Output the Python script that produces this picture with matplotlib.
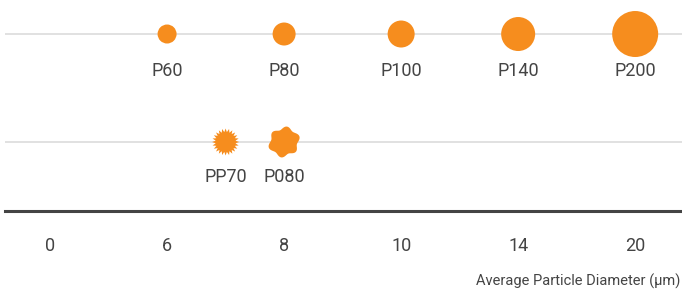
import matplotlib
matplotlib.use('Agg')
import matplotlib.pyplot as plt
import numpy as np
from matplotlib.path import Path

plt.rcParams['font.family'] = ['Roboto', 'DejaVu Sans']

# categorical diameter axis
tick_values = [0, 6, 8, 10, 14, 20]

# row 1: round particles
round_names = ["P60", "P80", "P100", "P140", "P200"]
round_diam = [6, 8, 10, 14, 20]
round_px = [19, 23, 27, 34, 46]   # drawn marker diameter in pixels

# row 2: irregular particles
irreg_names = ["PP70", "P080"]
irreg_diam = [7, 8]
irreg_px = [27, 31]

ORANGE = '#F68D1E'
TEXT = '#444444'


def spiky_marker(n=24, inner=0.74):
    th = np.linspace(0, 2 * np.pi, 2 * n, endpoint=False)
    r = np.where(np.arange(2 * n) % 2 == 0, 1.0, inner)
    pts = np.column_stack([r * np.cos(th), r * np.sin(th)])
    return Path(np.vstack([pts, pts[:1]]), closed=True)


def blob_marker(lobes=6, amp=0.10, rot=0.35):
    th = np.linspace(0, 2 * np.pi, 200)
    r = 1 + amp * np.cos(lobes * (th - rot)) + 0.04 * np.sin(2 * th + 0.5)
    pts = np.column_stack([r * np.cos(th), r * np.sin(th)])
    return Path(pts, closed=True)


def pos(v):
    return np.interp(v, tick_values, np.arange(len(tick_values)))


fig = plt.figure(figsize=(6.82, 2.9), dpi=100)
ax = fig.add_axes([5 / 682, 79 / 290, 677 / 682, 211 / 290])
ax.set_xlim(-0.385, 5.4)
ax.set_ylim(-0.639, 1.315)

# row grid lines
for y in (1, 0):
    ax.axhline(y, color='#dedede', lw=1.3, zorder=1)

px2pt = 0.72
# round markers
xs = pos(round_diam)
ax.scatter(xs, np.ones(len(xs)), s=[(d * px2pt) ** 2 for d in round_px],
           color=ORANGE, edgecolors='none', zorder=3)
for x, name in zip(xs, round_names):
    ax.annotate(name, (x, 1), xytext=(0, -26.5), textcoords='offset points',
                ha='center', va='center', fontsize=13, color=TEXT)

# irregular markers
xs2 = pos(irreg_diam)
markers = [spiky_marker(), blob_marker()]
for x, d, m, name in zip(xs2, irreg_px, markers, irreg_names):
    ax.scatter([x], [0], s=(d * px2pt) ** 2, marker=m, color=ORANGE,
               edgecolors='none', zorder=3)
    ax.annotate(name, (x, 0), xytext=(0, -25.5), textcoords='offset points',
                ha='center', va='center', fontsize=13, color=TEXT)

for s in ('top', 'right', 'left'):
    ax.spines[s].set_visible(False)
ax.spines['bottom'].set_color('#444444')
ax.spines['bottom'].set_linewidth(2.2)
ax.set_yticks([])
ax.set_xticks(np.arange(len(tick_values)))
ax.set_xticklabels([str(v) for v in tick_values])
ax.tick_params(axis='x', length=0, pad=19, labelsize=13, labelcolor=TEXT)

fig.text(0.997, 0.03, "Average Particle Diameter (µm)", ha='right', va='center',
         fontsize=10.5, color=TEXT)

fig.savefig('out.png', dpi=100, facecolor='white')
